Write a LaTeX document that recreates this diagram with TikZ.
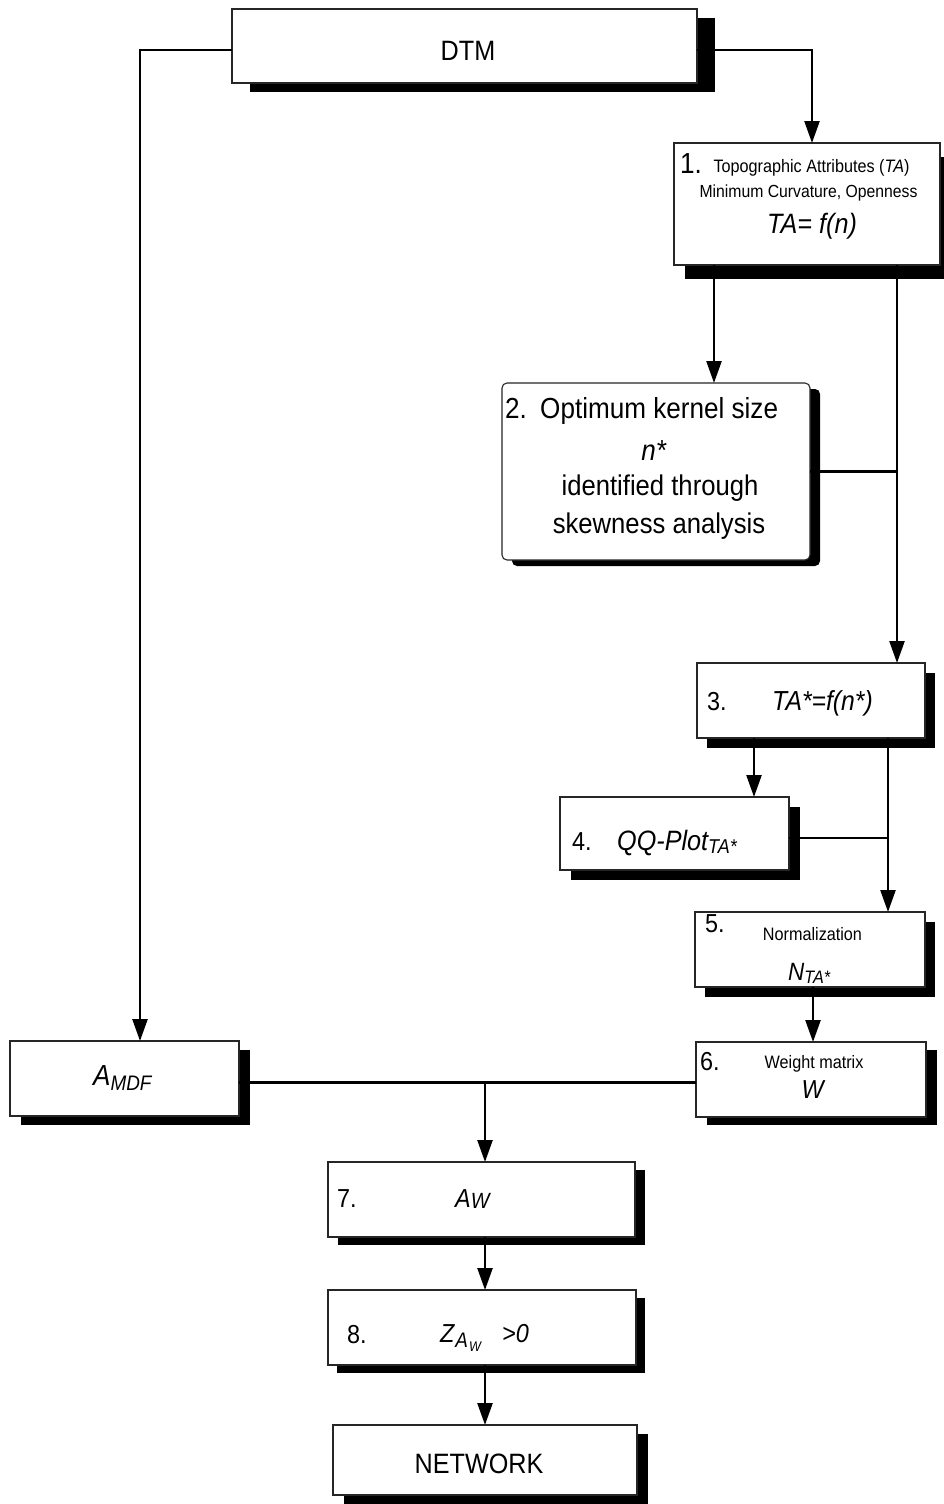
\documentclass[tikz,border=0pt]{standalone}
\usepackage{fontspec}
\setmainfont{Liberation Sans}[FakeStretch=0.9]
\usetikzlibrary{arrows.meta,shadows,calc}
\newcommand\fsz[1]{\fontsize{#1}{#1}\selectfont}
\begin{document}
\begin{tikzpicture}[x=1pt,y=-1pt,
 box/.style={draw=black!85, line width=1.1pt, fill=white, inner sep=0pt, outer sep=0pt},
 sh/.style 2 args={drop shadow={shadow xshift=#1, shadow yshift=#2, fill=black, opacity=1}},
 conn/.style={line width=2.4pt, draw=black},
 arr/.style={conn, -{Triangle[length=22pt,width=15pt]}},
 txt/.style={inner sep=0pt, anchor=base west},
 ctxt/.style={inner sep=0pt, anchor=base}]
\fill[white] (0,0) rectangle (944,1504);
\useasboundingbox (0,0) rectangle (944,1504);

% boxes
\node[box, sh={18pt}{-9pt}, minimum width=465pt, minimum height=74pt] (dtm) at (464.5,46) {};
\node[box, sh={11pt}{-14pt}, minimum width=266pt, minimum height=122pt] (b1) at (807,204) {};
\node[box, sh={10pt}{-6pt}, rounded corners=5pt, minimum width=308pt, minimum height=177pt] (b2) at (656,471.5) {};
\node[box, sh={10pt}{-10pt}, minimum width=228pt, minimum height=75pt] (b3) at (811,700.5) {};
\node[box, sh={11pt}{-10pt}, minimum width=229pt, minimum height=73pt] (b4) at (674.5,833.5) {};
\node[box, sh={10pt}{-10pt}, minimum width=230pt, minimum height=75pt] (b5) at (810,949.5) {};
\node[box, sh={11pt}{-8pt}, minimum width=230pt, minimum height=75pt] (b6) at (811,1079.5) {};
\node[box, sh={11pt}{-9pt}, minimum width=229pt, minimum height=75pt] (amdf) at (124.5,1078.5) {};
\node[box, sh={10pt}{-8pt}, minimum width=307pt, minimum height=75pt] (b7) at (481.5,1199.5) {};
\node[box, sh={9pt}{-8pt}, minimum width=308pt, minimum height=75pt] (b8) at (482,1327.5) {};
\node[box, sh={11pt}{-9pt}, minimum width=304pt, minimum height=70pt] (net) at (485,1460) {};

% texts
\node[ctxt, font=\fsz{28}] (tdtm) at (468,60) {DTM};

\node[txt, font=\fsz{29}] (t1n) at (680,173) {1.};
\node[ctxt, font=\fsz{18}] (t1a) at (811.5,172) {Topographic Attributes (\textit{TA})};
\node[ctxt, font=\fsz{17.5}] (t1b) at (808.5,197) {Minimum Curvature, Openness};
\node[ctxt, font=\fsz{28}] (t1c) at (812,233) {\textit{TA= f(n)}};

\node[txt, font=\fsz{29}] (t2n) at (505,418) {2.};
\node[txt, font=\fsz{29}] (t2a) at (540,418) {Optimum kernel size};
\node[ctxt, font=\fsz{29}] (t2b) at (654,460) {\textit{n*}};
\node[ctxt, font=\fsz{28.5}] (t2c) at (660,495) {identified through};
\node[ctxt, font=\fsz{28.5}] (t2d) at (659,533) {skewness analysis};

\node[txt, font=\fsz{26}] (t3n) at (707,710) {3.};
\node[txt, font=\fsz{27.5}] (t3a) at (772,710) {\textit{TA*=f(n*)}};

\node[txt, font=\fsz{26}] (t4n) at (572,850) {4.};
\node[txt, font=\fsz{28}] (t4a) at (617,850) {\textit{QQ-Plot\raisebox{-3pt}{\fsz{20}TA*}}};

\node[txt, font=\fsz{26}] (t5n) at (705,932) {5.};
\node[ctxt, font=\fsz{18}] (t5a) at (812.5,940) {Normalization};
\node[txt, font=\fsz{25}] (t5b) at (788,980) {\textit{N\raisebox{-3pt}{\fsz{18}TA*}}};

\node[txt, font=\fsz{26}] (t6n) at (700,1070) {6.};
\node[ctxt, font=\fsz{18}] (t6a) at (814,1068) {Weight matrix};
\node[ctxt, font=\fsz{26}] (t6b) at (813.5,1098) {\textit{W}};

\node[txt, font=\fsz{29}] (tam) at (93,1085) {\textit{A\raisebox{-5pt}{\fsz{21}MDF}}};

\node[txt, font=\fsz{26}] (t7n) at (337,1207) {7.};
\node[txt, font=\fsz{26}] (t7a) at (455,1207) {\textit{A\raisebox{-1pt}{\fsz{22}W}}};

\node[txt, font=\fsz{26}] (t8n) at (347,1343) {8.};
\node[txt, font=\fsz{26}] (t8a) at (440,1342) {\textit{Z\hspace{1pt}\raisebox{-5pt}{\fsz{21}A\hspace{1pt}\raisebox{-4pt}{\fsz{14}W}}}};
\node[txt, font=\fsz{26}] (t8b) at (502,1342) {\textit{>0}};

\node[ctxt, font=\fsz{28}] (tnet) at (479,1473) {NETWORK};

% connectors
\draw[arr] ([yshift=-4pt]dtm.west) -| ([xshift=15.5pt]amdf.north);
\draw[arr] ([yshift=-4pt]dtm.east) -| ([xshift=5pt]b1.north);
\draw[arr] ([xshift=-93pt]b1.south) -- ([xshift=-93pt]b1.south |- b2.north);
\coordinate (r1) at ([xshift=90pt]b1.south);
\draw[arr] (r1) -- (r1 |- b3.north);
\draw[conn] (b2.east) -- (b2.east -| r1);
\draw[arr] ([xshift=-57pt]b3.south) -- ([xshift=-57pt]b3.south |- b4.north);
\coordinate (r3) at ([xshift=77pt]b3.south);
\draw[arr] (r3) -- (r3 |- b5.north);
\draw[conn] ([yshift=-4.5pt]b4.east) -- ([yshift=-4.5pt]b4.east -| r3);
\draw[arr] ([xshift=3pt]b5.south) -- ([xshift=3pt]b5.south |- b6.north);
\coordinate (hl) at ([yshift=-4pt]amdf.east);
\draw[conn] (hl) -- (hl -| b6.west);
\coordinate (j7) at ([xshift=3.5pt]b7.north);
\draw[arr] (hl -| j7) -- (j7);
\draw[arr] ([xshift=3.5pt]b7.south) -- ([xshift=3.5pt]b7.south |- b8.north);
\draw[arr] ([xshift=3pt]b8.south) -- ([xshift=3pt]b8.south |- net.north);
\end{tikzpicture}
\end{document}
